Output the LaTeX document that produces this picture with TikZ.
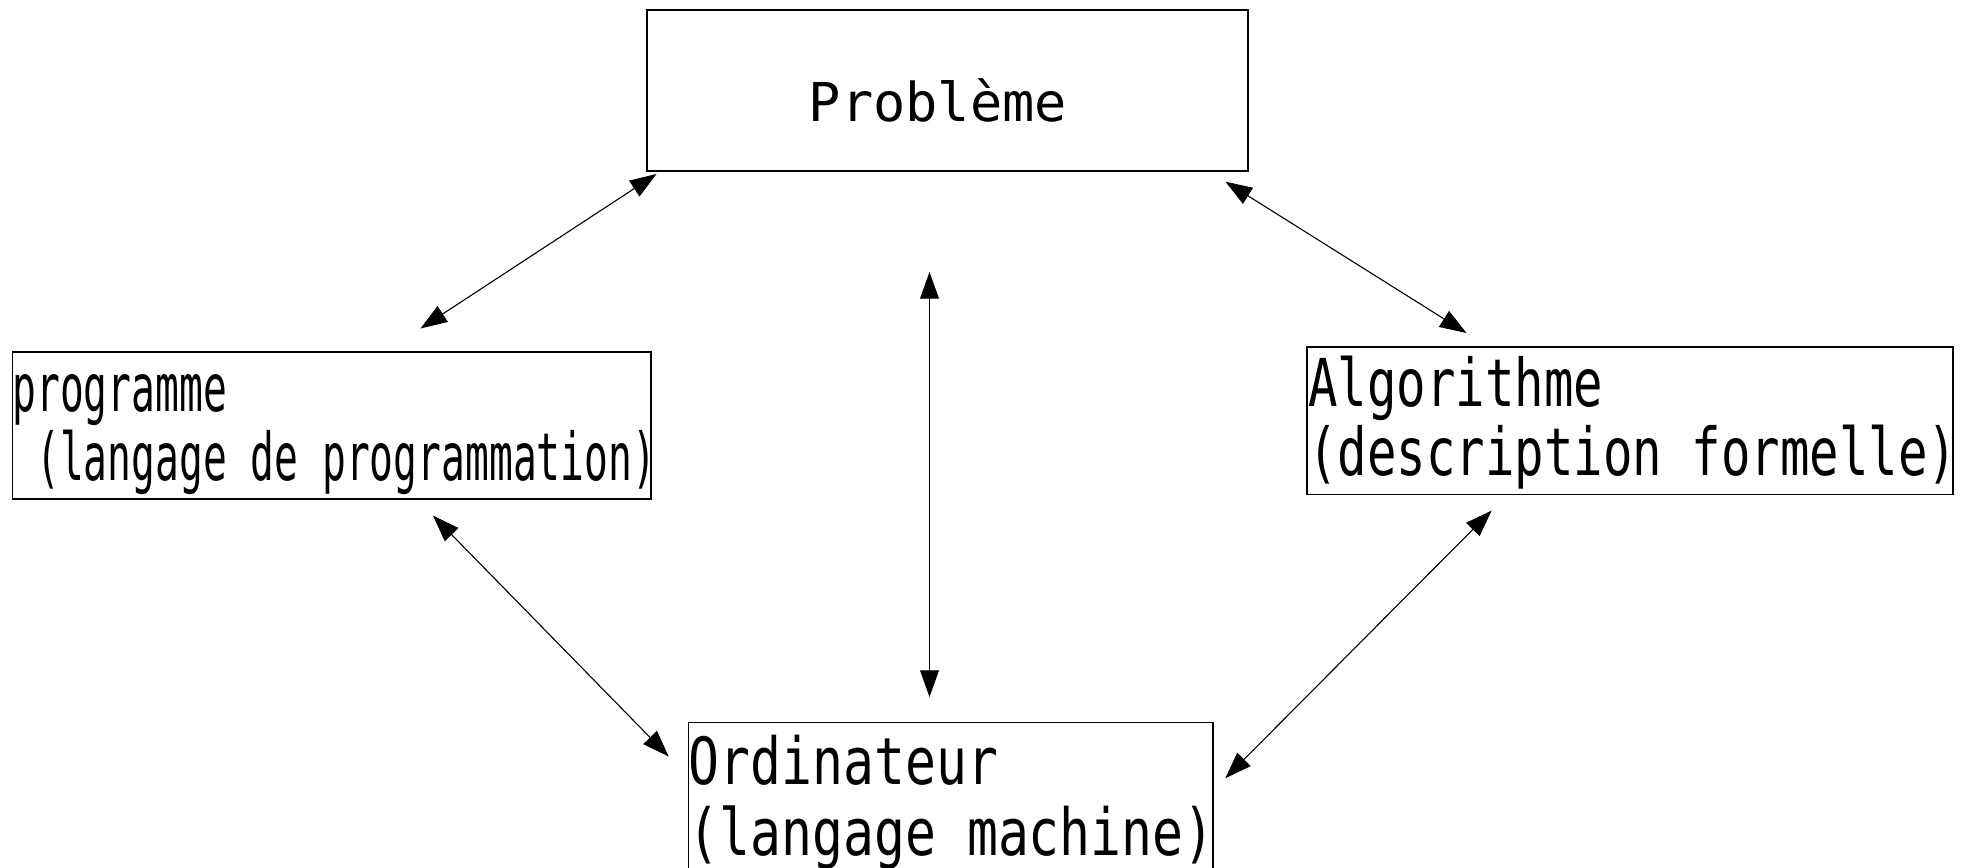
\documentclass[tikz,border=0pt]{standalone}
\usepackage{fontspec}
\usetikzlibrary{arrows.meta}
\newfontfamily\probfont{DejaVu Sans Mono}
\newfontfamily\progfont[FakeStretch=0.60]{DejaVu Sans Mono}
\newfontfamily\algofont[FakeStretch=0.742]{DejaVu Sans Mono}
\newfontfamily\ordifont[FakeStretch=0.79]{DejaVu Sans Mono}
\begin{document}
\begin{tikzpicture}[x=0.5pt,y=-0.5pt,
  boxnode/.style={draw=black,line width=0.55pt,inner sep=0pt,rectangle},
  txt/.style={inner sep=0pt,anchor=base west},
  link/.style={line width=0.55pt,{Triangle[length=13.3pt,width=9.4pt]}-{Triangle[length=13.3pt,width=9.4pt]}}]
\useasboundingbox (0,0) rectangle (1967,868);
% boxes
\node[boxnode,minimum width=300.5pt,minimum height=80.5pt] (prob) at (947.5,90.5) {};
\node[boxnode,minimum width=319.25pt,minimum height=73.5pt] (prog) at (331.75,425.5) {};
\node[boxnode,minimum width=323pt,minimum height=73.75pt] (algo) at (1630,420.75) {};
\node[boxnode,minimum width=262.25pt,minimum height=78.75pt] (ordi) at (950.75,801.25) {};
% texts
\node[inner sep=0pt,anchor=base] (probT) at (938,121.5) {\probfont\fontsize{26.8pt}{30pt}\selectfont Problème};
\node[txt] (progT) at (12,411.5) {\progfont\fontsize{33pt}{34.5pt}\selectfont\vtop{\hbox{programme}\hbox{\ (langage de programmation)}}};
\node[txt] (algoT) at (1308,406) {\algofont\fontsize{33pt}{34.5pt}\selectfont\vtop{\hbox{Algorithme}\hbox{(description formelle)}}};
\node[txt] (ordiT) at (688.5,784) {\ordifont\fontsize{32.5pt}{35.5pt}\selectfont\vtop{\hbox{Ordinateur}\hbox{(langage machine)}}};
% connector ends
\coordinate (pp1) at (656.5,174);
\coordinate (pp2) at (420.5,328.5);
\coordinate (pa1) at (1225.5,181.7);
\coordinate (pa2) at (1466.5,333);
\coordinate (po1) at (929.5,272);
\coordinate (po2) at (929.5,697);
\coordinate (go1) at (433,515.6);
\coordinate (go2) at (668.7,756.5);
\coordinate (ao1) at (1491.6,510.6);
\coordinate (ao2) at (1225.3,778.2);
% connectors
\draw[link] (pp1) -- (pp2);
\draw[link] (pa1) -- (pa2);
\draw[link] (po1) -- (po2);
\draw[link] (go1) -- (go2);
\draw[link] (ao1) -- (ao2);
\end{tikzpicture}
\end{document}
